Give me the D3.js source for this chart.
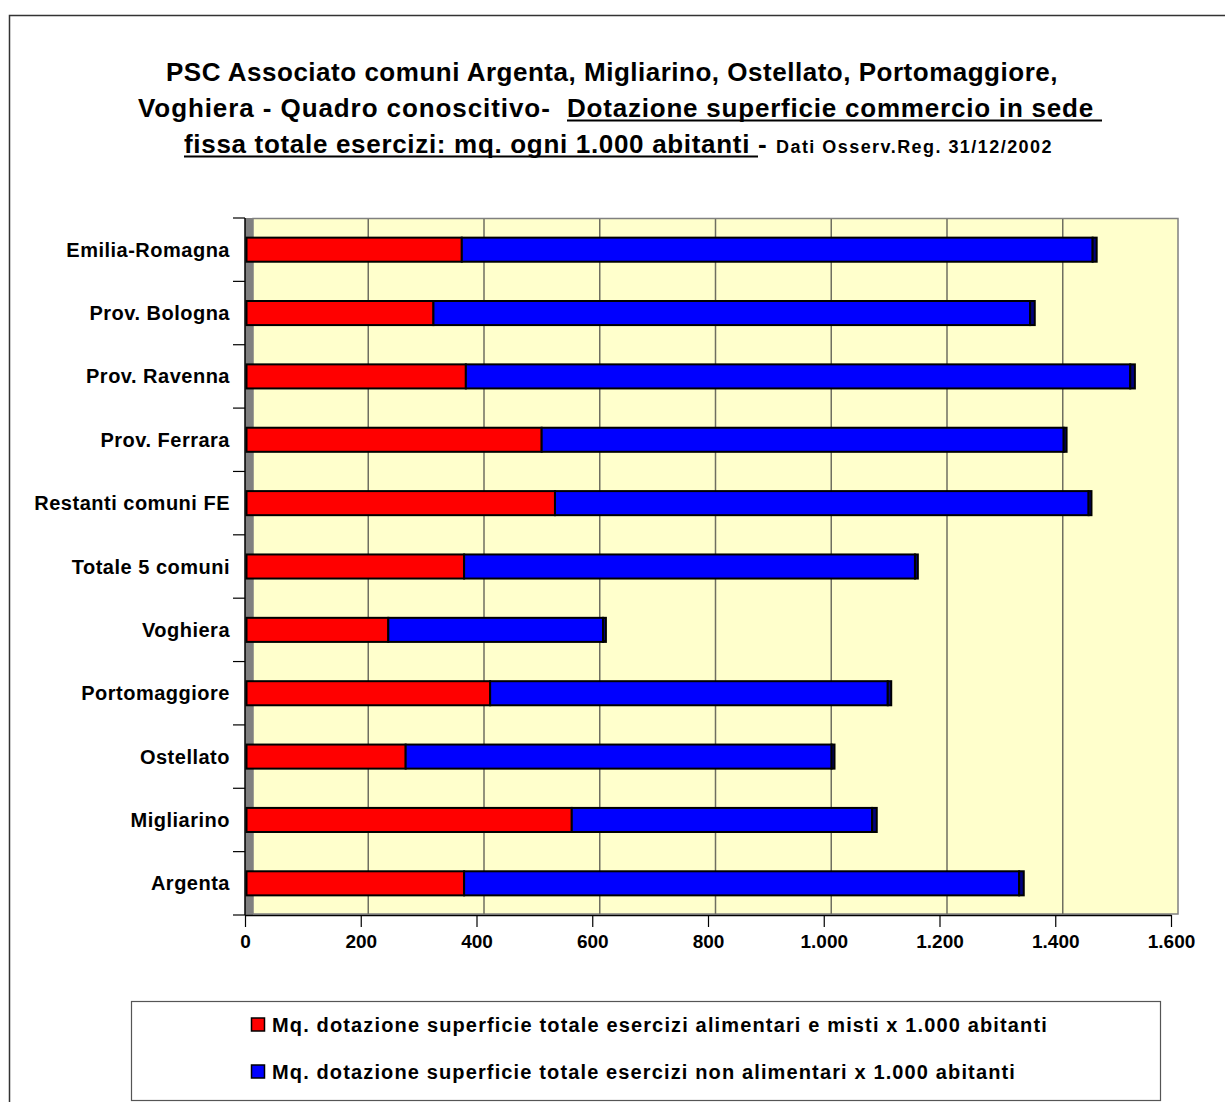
<!DOCTYPE html>
<html><head><meta charset="utf-8">
<script src="https://cdn.jsdelivr.net/npm/d3@7"></script>
<style>body{margin:0;background:#fff}svg{display:block}text{font-family:"Liberation Sans",Arial,sans-serif;font-weight:bold;fill:#000}</style>
</head><body>
<svg id="chart" width="1225" height="1102"></svg>
<script>
const categories = ["Emilia-Romagna","Prov. Bologna","Prov. Ravenna","Prov. Ferrara","Restanti comuni FE","Totale 5 comuni","Voghiera","Portomaggiore","Ostellato","Migliarino","Argenta"];
const alimentari = [372, 323, 379, 510, 533, 376, 245, 421, 275, 562, 376];
const nonAlimentari = [1090, 1031, 1148, 902, 922, 779, 371, 687, 736, 519, 959];
const altro = [7, 8, 8, 5, 5, 5, 5, 6, 5, 8, 8];
const xTicks = [0,200,400,600,800,1000,1200,1400,1600];
const xTickLabels = ["0","200","400","600","800","1.000","1.200","1.400","1.600"];
const legendLabels = ["Mq. dotazione superficie totale esercizi alimentari e misti x 1.000 abitanti","Mq. dotazione superficie totale esercizi non alimentari x 1.000 abitanti"];
const colors = ["#ff0000","#0000ff","#000080"];

const svg = d3.select("#chart");
svg.append("rect").attr("x",9.5).attr("y",15.5).attr("width",1240).attr("height",1100)
  .attr("fill","#fff").attr("stroke","#333").attr("stroke-width",1.5);

function fit(sel, width) {
  sel.attr("letter-spacing", 0);
  const n = sel.text().length;
  const nat = sel.node().getComputedTextLength();
  sel.attr("letter-spacing", (width - nat) / n);
  return sel;
}

const titleLines = [
  {y:81, segs:[{t:"PSC Associato comuni Argenta, Migliarino, Ostellato, Portomaggiore,", s:26, x0:166, x1:1058}]},
  {y:117, segs:[{t:"Voghiera - Quadro conoscitivo-\u00a0\u00a0", s:26, x0:138, x1:567},{t:"Dotazione superficie commercio in sede\u00a0", s:26, u:true, x0:567, x1:1102}]},
  {y:153, segs:[{t:"fissa totale esercizi: mq. ogni 1.000 abitanti\u00a0", s:26, u:true, x0:184, x1:758},{t:"- ", s:26, x0:758, x1:776},{t:"Dati Osserv.Reg. 31/12/2002", s:18, x0:776, x1:1053}]}
];
const tg = svg.append("g");
titleLines.forEach(line => {
  line.segs.forEach(sg => {
    const e = tg.append("text").attr("x", sg.x0).attr("y", line.y).attr("font-size", sg.s).text(sg.t);
    fit(e, sg.x1 - sg.x0);
    if (sg.u) tg.append("line").attr("x1", sg.x0).attr("x2", sg.x1)
       .attr("y1", line.y + 3.5).attr("y2", line.y + 3.5).attr("stroke","#000").attr("stroke-width",2);
  });
});

const xAxisScale = d3.scaleLinear().domain([0,1600]).range([245,1171]);
const xBar = d3.scaleLinear().domain([0,1600]).range([246.5,1172.5]);
const xGrid = d3.scaleLinear().domain([0,1600]).range([252.5,1178.5]);
const y = d3.scaleBand().domain(categories).range([218,915]).paddingInner(0.62).paddingOuter(0.31);

svg.append("rect").attr("x",253).attr("y",218.5).attr("width",925).attr("height",695.5)
  .attr("fill","#ffffcc").attr("stroke","#808080").attr("stroke-width",1.5);
svg.append("rect").attr("x",245).attr("y",218).attr("width",8).attr("height",697).attr("fill","#808080");
svg.append("g").selectAll("line").data(xTicks.slice(1,-1)).join("line")
  .attr("x1",d=>xGrid(d)).attr("x2",d=>xGrid(d)).attr("y1",219).attr("y2",914)
  .attr("stroke","#6f6f60").attr("stroke-width",1.5);

const stacks = categories.map((c,i)=>{
  const a = alimentari[i], b = nonAlimentari[i], o = altro[i];
  return [{c, x0:0, x1:a, k:0},{c, x0:a, x1:a+b, k:1},{c, x0:a+b, x1:a+b+o, k:2}];
}).flat();
svg.append("g").selectAll("rect").data(stacks).join("rect")
  .attr("x",d=>xBar(d.x0)).attr("width",d=>xBar(d.x1)-xBar(d.x0))
  .attr("y",d=>y(d.c)).attr("height",y.bandwidth())
  .attr("fill",d=>colors[d.k]).attr("stroke","#000").attr("stroke-width",2);

const yAxis = svg.append("g");
yAxis.append("line").attr("x1",245).attr("x2",245).attr("y1",218).attr("y2",915).attr("stroke","#000").attr("stroke-width",1.5);
const bounds = d3.range(categories.length+1).map(i => 218 + i*y.step());
yAxis.selectAll("line.t").data(bounds).join("line").attr("class","t")
  .attr("x1",233).attr("x2",245).attr("y1",d=>d).attr("y2",d=>d).attr("stroke","#000").attr("stroke-width",1.2);
yAxis.selectAll("text").data(categories).join("text")
  .attr("x",230).attr("y",d=>y(d)+y.bandwidth()/2).attr("dy","0.35em")
  .attr("text-anchor","end").attr("font-size",20).attr("letter-spacing",0.5).text(d=>d);

const xAxis = d3.axisBottom(xAxisScale).tickValues(xTicks).tickFormat((d,i)=>xTickLabels[i]).tickSizeInner(12).tickSizeOuter(0).tickPadding(8);
const xg = svg.append("g").attr("transform","translate(0,915)").call(xAxis);
xg.select(".domain").attr("stroke","#000").attr("stroke-width",1.5);
xg.selectAll(".tick line").attr("stroke","#000").attr("stroke-width",1.2);
xg.selectAll(".tick text").attr("font-size",19).attr("font-family","Liberation Sans, Arial, sans-serif").attr("font-weight","bold").attr("fill","#000");

const lg = svg.append("g");
lg.append("rect").attr("x",131.5).attr("y",1001.5).attr("width",1029).attr("height",99).attr("fill","#fff").attr("stroke","#555").attr("stroke-width",1.2);
const legendEnds = [1048, 1016];
legendLabels.forEach((l,i)=>{
  const cy = 1025 + i*47;
  lg.append("rect").attr("x",251.5).attr("y",cy-7).attr("width",13).attr("height",13).attr("fill",colors[i]).attr("stroke","#000").attr("stroke-width",1.5);
  const t = lg.append("text").attr("x",272).attr("y",cy).attr("dy","0.36em").attr("font-size",20).text(l);
  fit(t, legendEnds[i] - 272);
});
</script>
</body></html>
